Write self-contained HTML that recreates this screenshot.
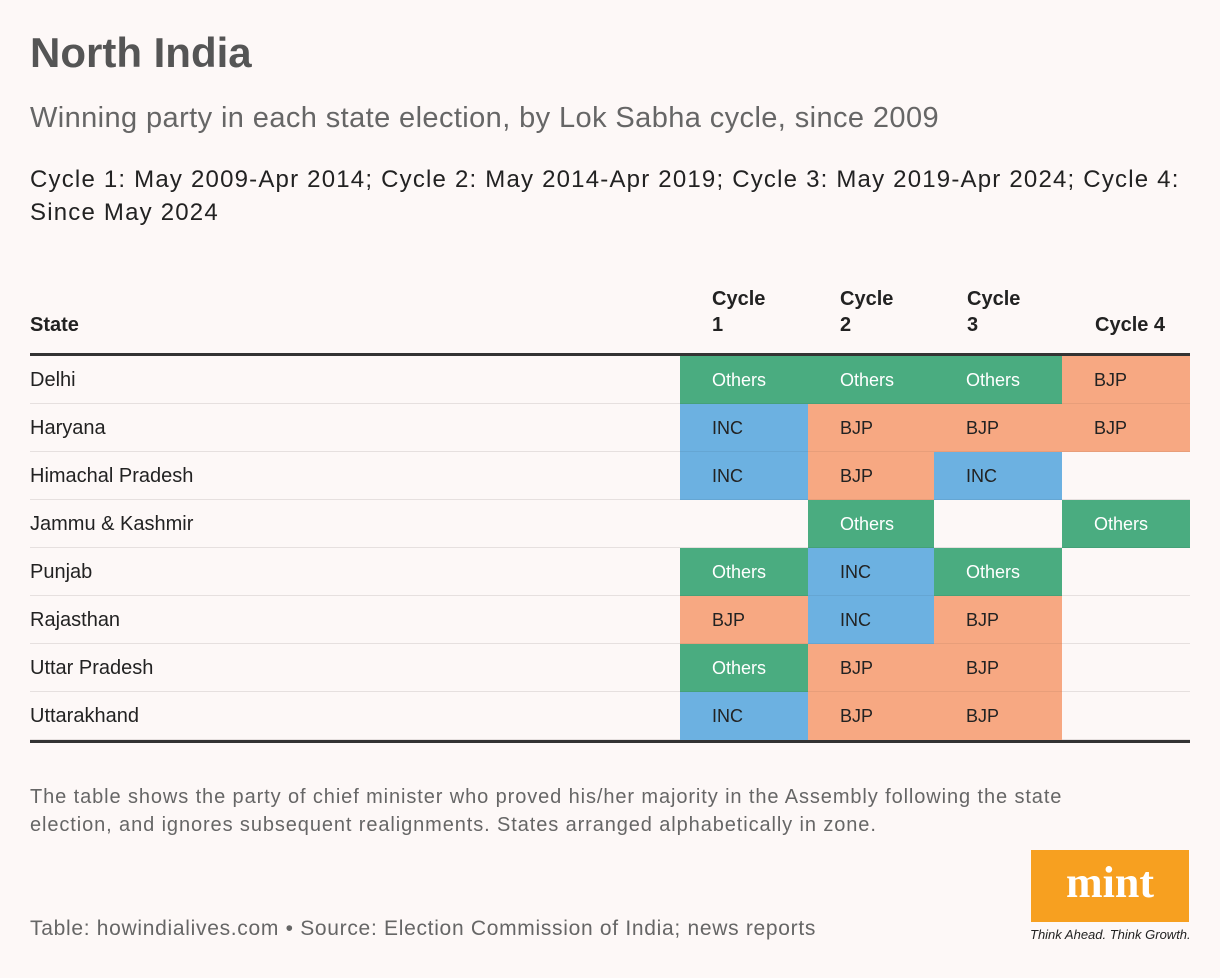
<!DOCTYPE html>
<html><head><meta charset="utf-8"><style>
body{margin:0;width:1220px;height:978px;background:#fdf8f7;font-family:"Liberation Sans",sans-serif;position:relative;overflow:hidden;color:#222}
.a{position:absolute;margin:0}
.cell{position:absolute;font-size:18px;line-height:48px;padding-left:32px;box-sizing:border-box;color:#222}
.row{position:absolute;left:30px;width:1160px;height:48px;border-bottom:1px solid #e6e0df;box-sizing:border-box}
.st{position:absolute;left:30px;font-size:20px;line-height:48px;color:#222}
.h{font-weight:bold;font-size:20px;line-height:26px;color:#222}
</style></head><body>
<h1 class="a" style="left:30px;top:29px;font-size:42px;color:#555;font-weight:bold;letter-spacing:0px">North India</h1>
<p class="a" style="left:30px;top:102px;font-size:29px;color:#666;letter-spacing:0.4px">Winning party in each state election, by Lok Sabha cycle, since 2009</p>
<p class="a" style="left:30px;top:163px;font-size:24px;line-height:33px;color:#222;width:1170px;letter-spacing:1.2px">Cycle 1: May 2009-Apr 2014; Cycle 2: May 2014-Apr 2019; Cycle 3: May 2019-Apr 2024; Cycle 4: Since May 2024</p>
<div class="a h" style="left:30px;top:312px">State</div>
<div class="a h" style="left:712px;top:286px">Cycle<br>1</div>
<div class="a h" style="left:840px;top:286px">Cycle<br>2</div>
<div class="a h" style="left:967px;top:286px">Cycle<br>3</div>
<div class="a h" style="left:1095px;top:312px">Cycle 4</div>
<div class="a" style="left:30px;top:353px;width:1160px;height:3px;background:#333"></div>
<div id="tbl"></div>
<div class="a" style="left:30px;top:740px;width:1160px;height:3px;background:#333"></div>
<p class="a" style="left:30px;top:783px;font-size:20px;line-height:28px;color:#666;width:1100px;letter-spacing:0.9px">The table shows the party of chief minister who proved his/her majority in the Assembly following the state election, and ignores subsequent realignments. States arranged alphabetically in zone.</p>
<p class="a" style="left:30px;top:917px;font-size:21px;color:#666;letter-spacing:0.7px">Table: howindialives.com • Source: Election Commission of India; news reports</p>
<div class="a" style="left:1031px;top:850px;width:158px;height:72px;background:#f7a020;color:#fff;font-family:'Liberation Serif',serif;font-weight:bold;font-size:44px;text-align:center;line-height:66px">mint</div>
<div class="a" style="left:1030px;top:927px;font-size:13px;font-style:italic;color:#222;letter-spacing:0px">Think Ahead. Think Growth.</div>
<script>
const states=["Delhi","Haryana","Himachal Pradesh","Jammu & Kashmir","Punjab","Rajasthan","Uttar Pradesh","Uttarakhand"];
const cycle1=["Others","INC","INC","","Others","BJP","Others","INC"];
const cycle2=["Others","BJP","BJP","Others","INC","INC","BJP","BJP"];
const cycle3=["Others","BJP","INC","","Others","BJP","BJP","BJP"];
const cycle4=["BJP","BJP","","Others","","","",""];
const colors={Others:"#4aac80",INC:"#6cb1e1",BJP:"#f7a882"};
const cols=[cycle1,cycle2,cycle3,cycle4];
const colX=[680,808,934,1062], colW=[128,126,128,128];
const t=document.getElementById('tbl');
states.forEach((s,i)=>{
  const y=356+i*48;
  const r=document.createElement('div');r.className='row';r.style.top=y+'px';
  
  t.appendChild(r);
  const l=document.createElement('div');l.className='st';l.style.top=y+'px';l.textContent=s;
  
  t.appendChild(l);
  cols.forEach((c,j)=>{
    const v=c[i]; if(!v) return;
    const d=document.createElement('div');d.className='cell';
    d.style.left=colX[j]+'px';d.style.top=y+'px';d.style.width=colW[j]+'px';d.style.height='48px';
    d.style.background=colors[v];d.style.color=v==='Others'?'#fff':'#222';
    d.style.borderBottom=i<7?'1px solid rgba(0,0,0,0.06)':'none';
    d.textContent=v;
    
    
    t.appendChild(d);
  });
});
</script>
</body></html>
